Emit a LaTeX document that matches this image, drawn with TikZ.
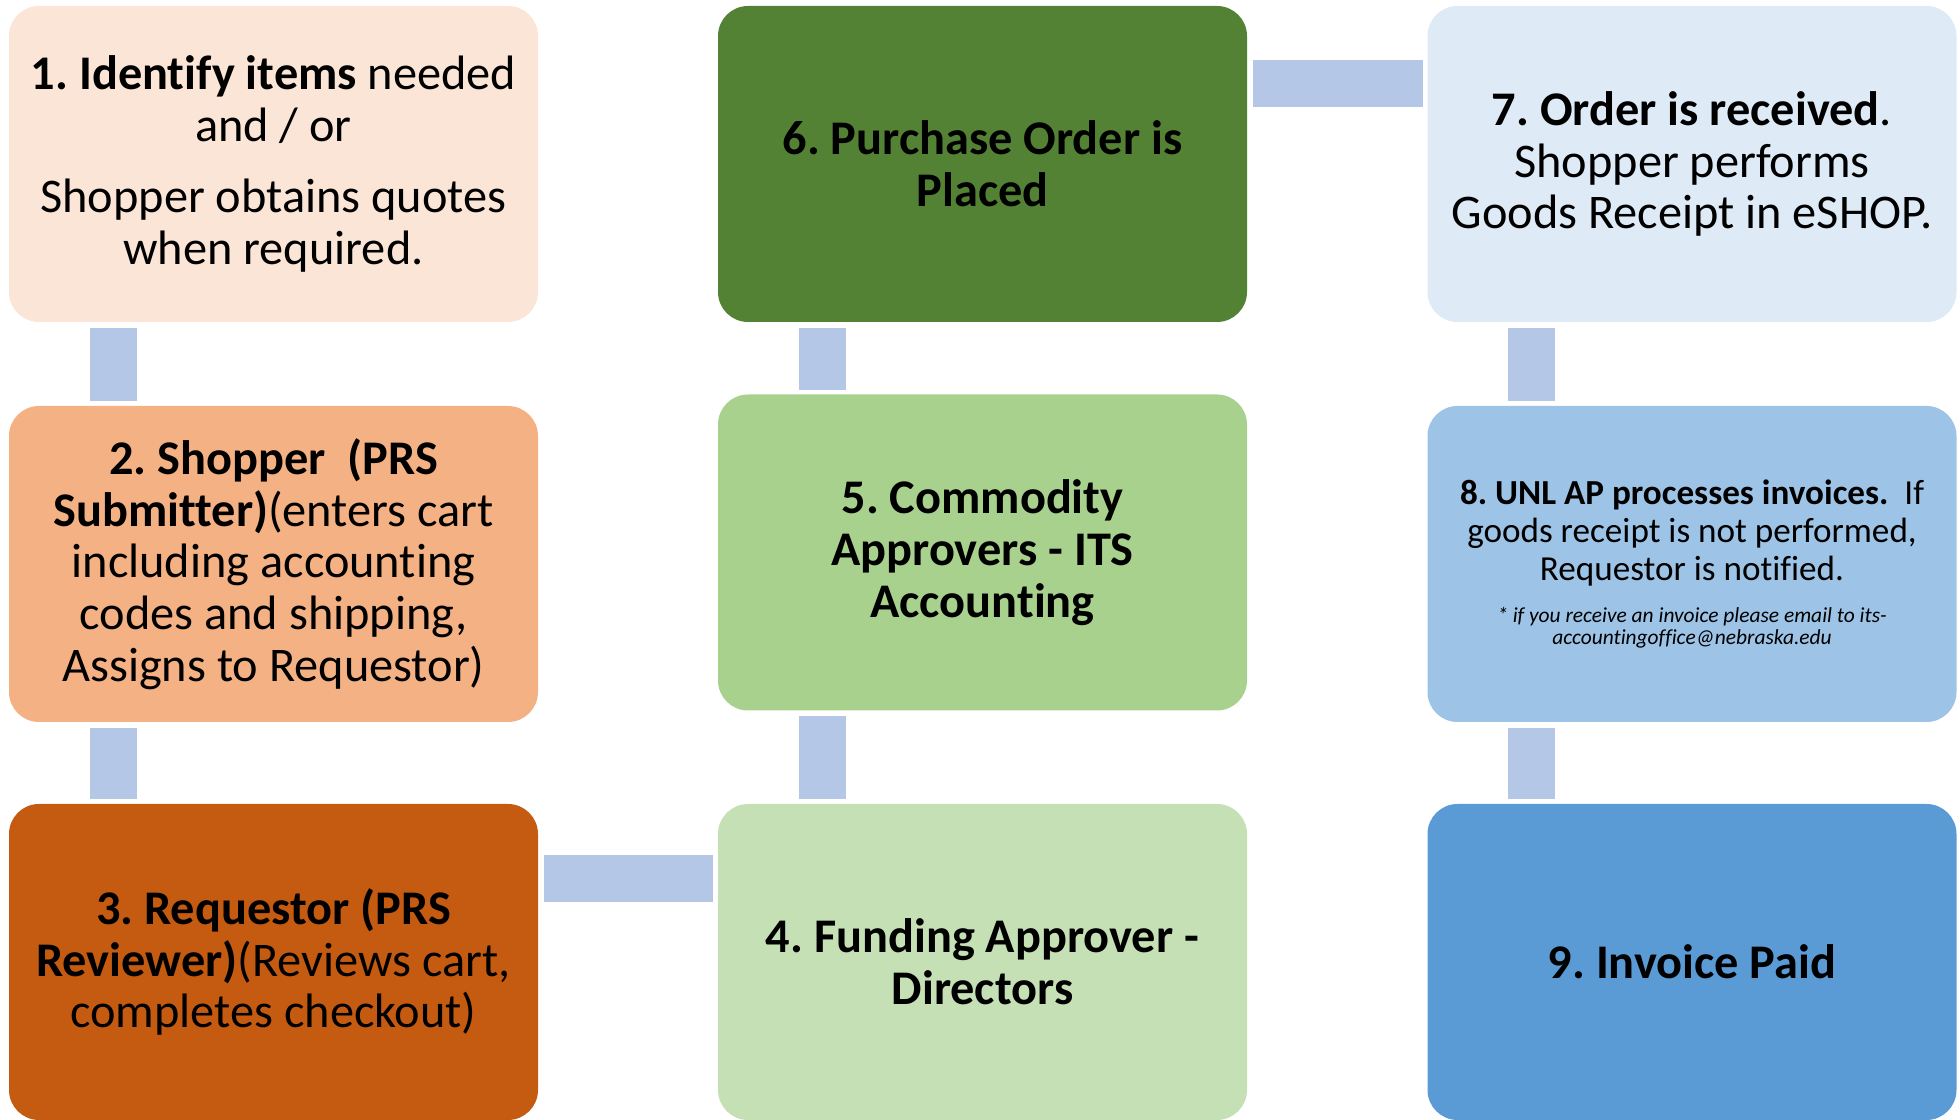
\documentclass[tikz,border=0pt]{standalone}
\usepackage{fontspec}
\setmainfont{Carlito}[Ligatures=NoCommon]
\usepackage{xcolor}
\usepackage{tikz}
\usetikzlibrary{positioning}
\definecolor{idcol}{HTML}{FBE5D6}
\definecolor{shopcol}{HTML}{F4B183}
\definecolor{reqcol}{HTML}{C55A11}
\definecolor{fundcol}{HTML}{C5E0B4}
\definecolor{commcol}{HTML}{A9D18E}
\definecolor{pocol}{HTML}{548235}
\definecolor{recvcol}{HTML}{DEEBF7}
\definecolor{apcol}{HTML}{9DC3E6}
\definecolor{paidcol}{HTML}{5B9BD5}
\definecolor{linkcol}{HTML}{B4C7E7}
\tikzstyle{stage}=[rounded corners=0.3cm,minimum width=5.29cm,minimum height=3.16cm,inner sep=0pt,text width=5.25cm,align=flush center,font=\fontsize{13.75}{14.7}\selectfont]
\tikzstyle{link}=[draw=linkcol,line width=0.47cm,shorten <=0.05cm,shorten >=0.04cm]
\frenchspacing

\begin{document}
\begin{tikzpicture}

    \useasboundingbox (0,0) rectangle (19.59,11.2);

    % First column: steps 1 to 3
    \node[stage, fill=idcol] (s1) at (2.735,9.56)
        {\textbf{1. Identify items} needed\\ and / or\\[5.7pt] Shopper obtains quotes\\ when required.};
    \node[stage, fill=shopcol] (s2) at (2.735,5.56)
        {\textbf{2. Shopper\ \ (PRS\\ Submitter)}(enters cart\\ including accounting\\ codes and shipping,\\ Assigns to Requestor)};
    \node[stage, fill=reqcol] (s3) at (2.735,1.58)
        {\textbf{3. Requestor (PRS\\ Reviewer)}(Reviews cart,\\ completes checkout)};

    % Second column: steps 4 to 6 (going up)
    \node[stage, fill=fundcol] (s4) at (9.825,1.58)
        {\textbf{4. Funding Approver -\\ Directors}};
    \node[stage, fill=commcol] (s5) at (9.825,5.675)
        {\textbf{5. Commodity\\ Approvers - ITS\\ Accounting}};
    \node[stage, fill=pocol] (s6) at (9.825,9.56)
        {\textbf{6. Purchase Order is\\ Placed}};

    % Third column: steps 7 to 9
    \node[stage, fill=recvcol] (s7) at (16.92,9.56)
        {\textbf{7. Order is received}.\\ Shopper performs\\ Goods Receipt in eSHOP.};
    \node[stage, fill=apcol] (s8) at (16.92,5.56)
        {\fontsize{10}{10.8}\selectfont\textbf{8. UNL AP processes invoices.}\ \ If\\ goods receipt is not performed,\\ Requestor is notified.\par
         \vspace{5.5pt}
         {\fontsize{6.1}{6.4}\selectfont\itshape * if you receive an invoice please email to its-\\ accountingoffice@nebraska.edu\par}};
    \node[stage, fill=paidcol] (s9) at (16.92,1.58)
        {\textbf{9. Invoice Paid}};

    % Vertical bars between stacked steps
    \foreach \a/\b in {s1/s2, s2/s3, s6/s5, s5/s4, s7/s8, s8/s9} {
        \draw[link] ([xshift=1.05cm]\a.south west) -- ([xshift=1.05cm]\b.north west);
    }

    % Horizontal bars between columns
    \draw[link] ([yshift=-0.75cm]s3.north east) -- ([yshift=-0.75cm]s4.north west);
    \draw[link] ([yshift=-0.78cm]s6.north east) -- ([yshift=-0.78cm]s7.north west);

\end{tikzpicture}
\end{document}
